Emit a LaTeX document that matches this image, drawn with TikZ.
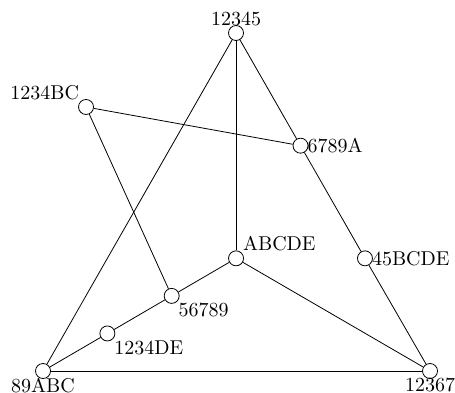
\documentclass[tikz,border=0pt]{standalone}
\usepackage{tikz}

\tikzset{
  vtx/.style={circle, draw, fill=white, inner sep=0pt, minimum size=7.5pt}
}

\begin{document}
\begin{tikzpicture}[label distance=-3.95pt]
    \useasboundingbox (-0.756,-0.369) rectangle (7.240,6.520);

    % Outer triangle
    \node[vtx, label=below:89ABC]  (v89ABC) at (0,0) {};
    \node[vtx, label=below:12367]  (v12367) at (6.801,0) {};
    \node[vtx, label=above:12345]  (v12345) at (3.392,5.940) {};

    % Points on the sides and inside
    \node[vtx, label=right:6789A]        (v6789A)  at (4.525,3.960) {};
    \node[vtx, label=right:45BCDE]       (v45BCDE) at (5.658,1.980) {};
    \node[vtx, label=above right:ABCDE]  (vABCDE)  at (3.392,1.980) {};
    \node[vtx, label=below right:56789]  (v56789)  at (2.261,1.320) {};
    \node[vtx, label=below right:1234DE] (v1234DE) at (1.131,0.660) {};
    \node[vtx, label=above left:1234BC]  (v1234BC) at (0.756,4.640) {};

    % Lines
    \draw (v89ABC) -- (v12367);
    \draw (v89ABC) -- (v12345);
    \draw (v12345) -- (v6789A) -- (v45BCDE) -- (v12367);
    \draw (v12345) -- (vABCDE);
    \draw (vABCDE) -- (v12367);
    \draw (vABCDE) -- (v56789) -- (v1234DE) -- (v89ABC);
    \draw (v1234BC) -- (v6789A);
    \draw (v1234BC) -- (v56789);
\end{tikzpicture}
\end{document}
